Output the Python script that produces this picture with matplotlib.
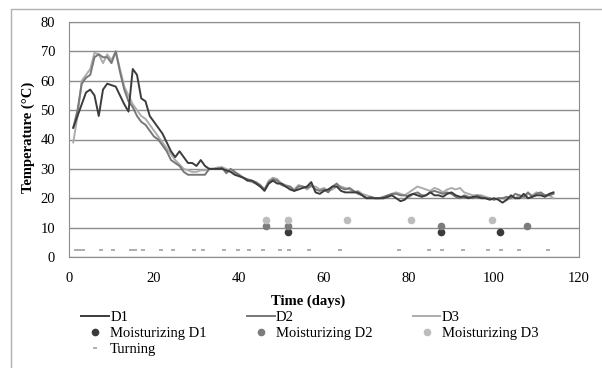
# -*- coding: utf-8 -*-
"""
Compost temperature of the three piles (D1, D2, D3) vs time,
with moisturizing and turning events.
"""
import numpy as np
import matplotlib
matplotlib.use('Agg')
import matplotlib.pyplot as plt
from matplotlib.patches import Rectangle

'''-- DATA (read from the picture) --'''
days = np.arange(1, 115)

temp_D1 = [44, 48, 52, 56, 57, 55, 48, 57, 59, 58.5,
           58, 55, 52, 49.5, 64, 62, 54, 53, 48, 46,
           44, 42, 39, 36, 34, 36, 34, 32, 32, 31,
           33, 31, 30, 30, 30, 30, 29.5, 29, 28, 27.5,
           27, 26, 26, 25, 24, 22.5, 25, 26, 25, 25,
           24, 23, 22.5, 23, 23.5, 24, 25.5, 22, 21.5, 22.5,
           23, 24, 24, 22.5, 22, 22, 22, 22, 21, 20,
           20, 20, 20, 20, 20.5, 21, 20, 19, 19.5, 21,
           21.5, 21, 20.5, 21, 22, 21, 21, 20.5, 21.5, 22,
           21, 20.5, 20.5, 20, 20.5, 20.5, 20, 20, 19.5, 20,
           19.5, 18.5, 19.5, 21, 20, 20, 21.5, 20, 20.5, 21,
           21, 20.5, 21.5, 22]

temp_D2 = [44, 50, 59, 61, 62, 68, 69, 68, 68, 66,
           70, 63, 57, 53, 51, 48, 46, 45, 43, 41,
           40, 38, 36, 33, 32, 31, 29, 28, 28, 28,
           28, 28, 30, 30, 30, 30.5, 28.5, 30, 29, 28,
           27, 26.5, 26, 25.5, 24.5, 23, 25.5, 26.5, 26, 24.5,
           24, 24, 22.5, 24, 24, 23.5, 24.5, 23, 22.5, 23,
           22, 24, 25, 23.5, 23, 23.5, 22.5, 21.5, 21, 20,
           20.5, 20, 20, 20.5, 21, 21.5, 21.5, 21, 21, 20.5,
           21.5, 22, 21, 21, 22, 22.5, 22, 21.5, 22, 21.5,
           20.5, 20, 21, 20.5, 20, 21, 20.5, 20, 20, 19.5,
           20, 20, 20.5, 20, 21.5, 21, 20.5, 22, 20.5, 21.5,
           22, 21, 21, 21.5]

temp_D3 = [39, 48, 60, 62, 64, 69.5, 69, 66, 69, 67,
           70, 64, 58, 55, 52, 50, 48, 47, 45, 43,
           41, 39, 37, 35, 33, 31.5, 30, 29.5, 29, 29,
           29.5, 29.5, 30, 30, 30.5, 30.5, 30, 29, 28.5, 28,
           27, 26, 25.5, 25, 24, 23, 26, 27, 26.5, 25,
           24.5, 24, 23, 24.5, 24, 23, 24, 24, 23, 23.5,
           22.5, 23, 24, 24, 23.5, 23, 22, 22.5, 21.5, 21,
           20.5, 20, 20, 20, 20.5, 21.5, 22, 21.5, 21, 22,
           23, 24, 23.5, 23, 22.5, 23.5, 23, 22, 23, 23.5,
           23, 23.5, 22, 21.5, 21, 21, 21, 20.5, 20, 19.5,
           20, 20, 19.5, 20, 20, 21, 20, 21.5, 21, 22,
           21.5, 21, 21, 20]

# moisturizing events (day, marker height)
moist_D1_days = [51.5, 87.5, 101.5]
moist_D1_y = [8.5, 8.5, 8.5]
moist_D2_days = [46.4, 51.5, 87.5, 107.7]
moist_D2_y = [10.5, 10.5, 10.5, 10.5]
moist_D3_days = [46.4, 51.5, 65.3, 80.4, 99.6]
moist_D3_y = [12.7, 12.7, 12.7, 12.7, 12.7]

# turning events
turn_days = [1.6, 2.4, 3.4, 7.5, 10.4, 14.5, 15.6, 17.5, 21.6, 24.5,
             29.5, 31.6, 36.5, 39.7, 42.4, 45.6, 49.6, 51.7, 56.5, 63.8,
             77.6, 84.8, 87.8, 92.8, 98.7, 101.7, 105.8, 112.8]
turn_y = [2.5] * len(turn_days)
'''-- Until here --'''

serif = 'Liberation Serif'
plt.rcParams['font.family'] = [serif, 'DejaVu Serif']


def plotter():
    fig = plt.figure(figsize=(6.02, 3.68), dpi=100)
    W, H = 602, 368

    # Outer chart border (Excel style)
    fig.patches.append(Rectangle((11 / W, -0.1), 1.2, 1 - 9 / H + 0.1,
                                 transform=fig.transFigure, fill=False,
                                 edgecolor='#b0b0b0', linewidth=1.0))

    ax = fig.add_axes([69 / W, 1 - 257 / H, 510 / W, 235 / H])

    # Temperature curves
    ax.plot(days, temp_D1, color='#3c3c3c', lw=1.4, label='D1', zorder=4)
    ax.plot(days, temp_D2, color='#787878', lw=1.4, label='D2', zorder=3)
    ax.plot(days, temp_D3, color='#acacac', lw=1.4, label='D3', zorder=2)

    # Events
    ax.plot(moist_D1_days, moist_D1_y, 'o', ms=4.5, color='#3a3a3a',
            label='Moisturizing D1', zorder=5)
    ax.plot(moist_D2_days, moist_D2_y, 'o', ms=4.5, color='#7c7c7c',
            label='Moisturizing D2', zorder=5)
    ax.plot(moist_D3_days, moist_D3_y, 'o', ms=4.5, color='#bdbdbd',
            label='Moisturizing D3', zorder=5)
    ax.plot(turn_days, turn_y, '_', ms=3, mew=1.3, color='#a8a8a8',
            label='Turning', zorder=5)

    # Axes, ticks, grid
    ax.set_xlim(0, 120)
    ax.set_ylim(0, 80)
    ax.set_xticks(np.arange(0, 121, 20))
    ax.set_yticks(np.arange(0, 81, 10))
    ax.grid(axis='y', color='#8c8c8c', lw=1.0)
    ax.set_axisbelow(True)
    for s in ax.spines.values():
        s.set_color('#8c8c8c')
    ax.tick_params(length=0, labelsize=10.5, pad=10)
    ax.tick_params(axis='x', pad=11)

    # Texts
    fig.text(28 / W, 1 - 137 / H, 'Temperature (°C)', rotation=90,
             ha='center', va='center', fontsize=10.5, fontweight='bold')
    fig.text(308 / W, 1 - 301 / H, 'Time (days)', ha='center', va='center',
             fontsize=10.5, fontweight='bold')

    h, l = ax.get_legend_handles_labels()
    order = [0, 3, 6, 1, 4, 2, 5]
    fig.legend([h[i] for i in order], [l[i] for i in order], ncol=3,
               loc='upper left', bbox_to_anchor=(81 / W, 1 - 311 / H),
               frameon=False, fontsize=10.5, handlelength=1.9,
               handletextpad=0.1, columnspacing=2.75, labelspacing=0.19,
               borderaxespad=0, borderpad=0)

    fig.savefig('out.png', dpi=100)


def main():
    plotter()


if __name__ == '__main__':
    main()
